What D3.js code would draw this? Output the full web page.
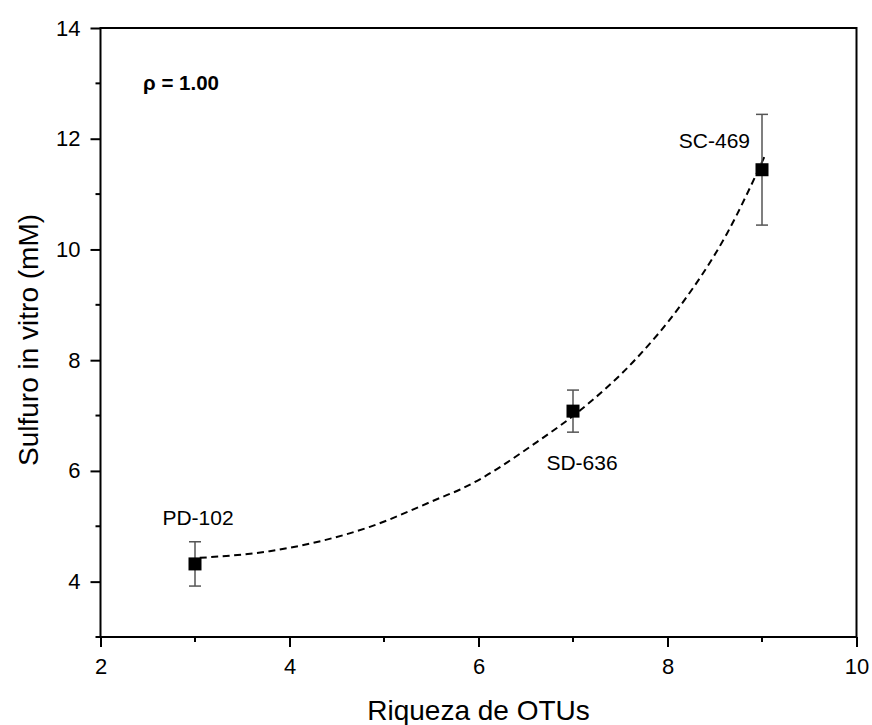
<!DOCTYPE html>
<html>
<head>
<meta charset="utf-8">
<script src="https://cdn.jsdelivr.net/npm/d3@7"></script>
<style>
  body { margin: 0; background: #fff; }
  svg text { font-family: "Liberation Sans", Arial, sans-serif; fill: #000; }
</style>
</head>
<body>
<svg id="chart" width="872" height="725"></svg>
<script>
/* Sulfuro in vitro vs riqueza de OTUs — scatter + error bars + fitted curve */

// samples
const samples = ['PD-102', 'SD-636', 'SC-469'];
const richness = [3, 7, 9];
const sulfide = [4.32, 7.08, 11.44];
const sulfideErr = [0.40, 0.38, 1.00];

// fitted curve
const fitX = [3.05, 3.79, 4.85, 5.59, 5.80, 6.65, 7.08, 7.67, 8.13, 8.63, 9.03];
const fitY = [4.43, 4.55, 4.99, 5.51, 5.66, 6.56, 7.10, 8.03, 8.97, 10.29, 11.69];

// axes
const xTicks = [2, 4, 6, 8, 10];
const yTicks = [4, 6, 8, 10, 12, 14];
const xMinor = [3, 5, 7, 9];
const yMinor = [3, 5, 7, 9, 11, 13];

const rhoText = 'ρ = 1.00';

// label offsets (px) relative to each point
const labelPos = {
  'PD-102': { dx: 3, dy: -39, anchor: 'middle' },
  'SD-636': { dx: 9, dy: 59, anchor: 'middle' },
  'SC-469': { dx: -12, dy: -22, anchor: 'end' },
};

const svg = d3.select('#chart');
const L = 100.5, R = 856.5, T = 28, B = 637;
const FONT = '"Liberation Sans", Arial, sans-serif';

const x = d3.scaleLinear().domain([2, 10]).range([L, R]);
const y = d3.scaleLinear().domain([3, 14]).range([B, T]);

// frame
svg.append('rect')
  .attr('x', L).attr('y', T).attr('width', R - L).attr('height', B - T)
  .attr('fill', 'none').attr('stroke', '#000').attr('stroke-width', 2);

// x axis
const xAxis = svg.append('g').attr('transform', `translate(0,${B})`)
  .call(d3.axisBottom(x).tickValues(xTicks).tickSize(10).tickPadding(11).tickFormat(d3.format('d')));
xAxis.select('.domain').remove();
xAxis.selectAll('line').attr('stroke-width', 2);
xAxis.selectAll('text').attr('font-size', 22).attr('font-family', FONT);

svg.append('g').selectAll('line').data(xMinor).join('line')
  .attr('x1', d => x(d)).attr('x2', d => x(d))
  .attr('y1', B).attr('y2', B + 5)
  .attr('stroke', '#000').attr('stroke-width', 2);

// y axis
const yAxis = svg.append('g').attr('transform', `translate(${L},0)`)
  .call(d3.axisLeft(y).tickValues(yTicks).tickSize(10).tickPadding(10).tickFormat(d3.format('d')));
yAxis.select('.domain').remove();
yAxis.selectAll('line').attr('stroke-width', 2);
yAxis.selectAll('text').attr('font-size', 22).attr('font-family', FONT);

svg.append('g').selectAll('line').data(yMinor).join('line')
  .attr('x1', L - 5).attr('x2', L)
  .attr('y1', d => y(d)).attr('y2', d => y(d))
  .attr('stroke', '#000').attr('stroke-width', 2);

// axis titles
svg.append('text')
  .attr('x', (L + R) / 2).attr('y', 720)
  .attr('text-anchor', 'middle').attr('font-size', 28)
  .text('Riqueza de OTUs');

svg.append('text')
  .attr('transform', `translate(38,340) rotate(-90)`)
  .attr('text-anchor', 'middle').attr('font-size', 28)
  .text('Sulfuro in vitro (mM)');

// fitted curve
const fit = fitX.map((v, i) => [v, fitY[i]]);
svg.append('path')
  .datum(fit)
  .attr('fill', 'none').attr('stroke', '#000').attr('stroke-width', 2)
  .attr('stroke-dasharray', '7,4.5')
  .attr('d', d3.line().x(d => x(d[0])).y(d => y(d[1])).curve(d3.curveMonotoneX));

// error bars
const pts = samples.map((s, i) => ({ name: s, x: richness[i], y: sulfide[i], e: sulfideErr[i] }));
const eb = svg.append('g').attr('stroke', '#555').attr('stroke-width', 1.5);
pts.forEach(p => {
  const cx = x(p.x);
  eb.append('line').attr('x1', cx).attr('x2', cx).attr('y1', y(p.y - p.e)).attr('y2', y(p.y + p.e));
  [p.y - p.e, p.y + p.e].forEach(v => {
    eb.append('line').attr('x1', cx - 6).attr('x2', cx + 6).attr('y1', y(v)).attr('y2', y(v));
  });
});

// markers
svg.append('g').selectAll('rect').data(pts).join('rect')
  .attr('x', d => x(d.x) - 6.5).attr('y', d => y(d.y) - 6.5)
  .attr('width', 13).attr('height', 13).attr('fill', '#000');

// point labels
svg.append('g').selectAll('text').data(pts).join('text')
  .attr('x', d => x(d.x) + labelPos[d.name].dx)
  .attr('y', d => y(d.y) + labelPos[d.name].dy)
  .attr('text-anchor', d => labelPos[d.name].anchor)
  .attr('font-size', 21)
  .text(d => d.name);

// correlation
svg.append('text')
  .attr('x', 143).attr('y', 90)
  .attr('font-size', 20.5).attr('font-weight', 'bold')
  .text(rhoText);
</script>
</body>
</html>
